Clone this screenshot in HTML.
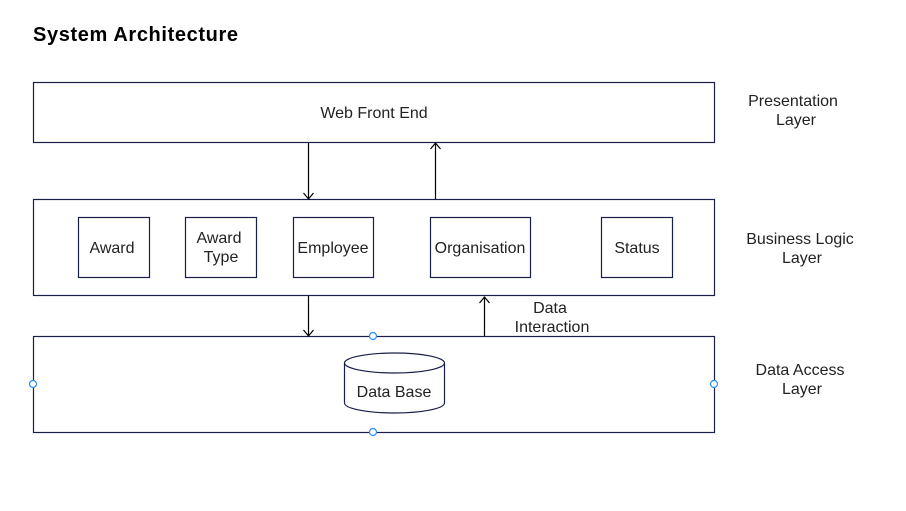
<!DOCTYPE html>
<html><head><style>body{margin:0;background:#fff}</style></head><body>
<svg width="906" height="506" xmlns="http://www.w3.org/2000/svg" font-family="Liberation Sans, sans-serif">
<rect width="906" height="506" fill="#fff"/>
<text x="33" y="41" font-size="20" font-weight="bold" fill="#000" textLength="205">System Architecture</text>
<g fill="#fff" stroke="#1a1f4a" stroke-width="1.2">
<rect x="33.5" y="82.5" width="681" height="60"/>
<rect x="33.5" y="199.5" width="681" height="96"/>
<rect x="33.5" y="336.5" width="681" height="96"/>
<rect x="78.5" y="217.5" width="71" height="60"/>
<rect x="185.5" y="217.5" width="71" height="60"/>
<rect x="293.5" y="217.5" width="80" height="60"/>
<rect x="430.5" y="217.5" width="100" height="60"/>
<rect x="601.5" y="217.5" width="71" height="60"/>
<path d="M344.5 363 L344.5 403 A50 10 0 0 0 444.5 403 L444.5 363"/>
<ellipse cx="394.5" cy="363" rx="50" ry="10"/>
</g>
<g stroke="#000" stroke-width="1.2" fill="none">
<path d="M308.5 143 V199 M303.5 193 L308.5 199 L313.5 193"/>
<path d="M435.5 199 V143 M430.5 149 L435.5 143 L440.5 149"/>
<path d="M308.5 296 V336 M303.5 330 L308.5 336 L313.5 330"/>
<path d="M484.5 336 V297 M479.5 303 L484.5 297 L489.5 303"/>
</g>
<g fill="#fff" stroke="#2a8cff" stroke-width="1.2">
<circle cx="373" cy="336" r="3.5"/><circle cx="373" cy="432" r="3.5"/>
<circle cx="33" cy="384" r="3.5"/><circle cx="714" cy="384" r="3.5"/>
</g>
<g font-size="16" fill="#222" text-anchor="middle">
<text x="374" y="118">Web Front End</text>
<text x="112" y="253">Award</text>
<text x="219" y="243">Award</text><text x="221" y="262">Type</text>
<text x="333" y="253">Employee</text>
<text x="480" y="253">Organisation</text>
<text x="637" y="253">Status</text>
<text x="394" y="397">Data Base</text>
<text x="550" y="313">Data</text><text x="552" y="332">Interaction</text>
<text x="793" y="106">Presentation</text><text x="796" y="125">Layer</text>
<text x="800" y="244">Business Logic</text><text x="802" y="263">Layer</text>
<text x="800" y="375">Data Access</text><text x="802" y="394">Layer</text>
</g>
</svg>
</body></html>
